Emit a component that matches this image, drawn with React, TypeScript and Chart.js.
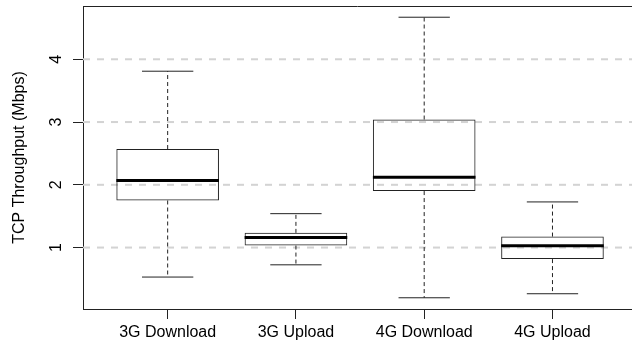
import React, { useEffect, useRef } from 'react';
import { Chart, registerables } from 'chart.js';

Chart.register(...registerables);

const categories = ['3G Download', '3G Upload', '4G Download', '4G Upload'];
const whiskerLow = [0.53, 0.725, 0.2, 0.264];
const q1 = [1.75, 1.032, 1.9, 0.816];
const median = [2.07, 1.159, 2.12, 1.027];
const q3 = [2.57, 1.234, 3.04, 1.175];
const whiskerHigh = [3.81, 1.54, 4.67, 1.727];
const yTicks = [1, 2, 3, 4];
const yTitle = 'TCP Throughput (Mbps)';

const FONT = '"Liberation Sans", Arial, Helvetica, sans-serif';

export default function App() {
  const ref = useRef<HTMLCanvasElement>(null);

  useEffect(() => {
    if (!ref.current) return;

    const boxPlugin = {
      id: 'boxExtras',
      beforeDatasetsDraw(chart: any) {
        const { ctx, chartArea, scales } = chart;
        const y = scales.y;
        ctx.save();
        ctx.strokeStyle = '#d3d3d3';
        ctx.lineWidth = 2;
        ctx.setLineDash([7, 7]);
        yTicks.forEach((v) => {
          const py = y.getPixelForValue(v);
          ctx.beginPath();
          ctx.moveTo(chartArea.left, py);
          ctx.lineTo(chartArea.right, py);
          ctx.stroke();
        });
        ctx.restore();
      },
      afterDatasetsDraw(chart: any) {
        const { ctx, chartArea, scales } = chart;
        const x = scales.x;
        const y = scales.y;
        const meta = chart.getDatasetMeta(0);
        ctx.save();
        categories.forEach((_, i) => {
          const bar = meta.data[i];
          const px = x.getPixelForValue(i + 1);
          const half = bar.width / 2;
          const staple = bar.width / 4;
          ctx.strokeStyle = '#222';
          ctx.lineWidth = 1;
          ctx.setLineDash([4, 3]);
          ctx.beginPath();
          ctx.moveTo(px, y.getPixelForValue(q3[i]));
          ctx.lineTo(px, y.getPixelForValue(whiskerHigh[i]));
          ctx.moveTo(px, y.getPixelForValue(q1[i]));
          ctx.lineTo(px, y.getPixelForValue(whiskerLow[i]));
          ctx.stroke();
          ctx.setLineDash([]);
          ctx.beginPath();
          const hy = y.getPixelForValue(whiskerHigh[i]);
          const ly = y.getPixelForValue(whiskerLow[i]);
          ctx.moveTo(px - staple, hy);
          ctx.lineTo(px + staple, hy);
          ctx.moveTo(px - staple, ly);
          ctx.lineTo(px + staple, ly);
          ctx.stroke();
          ctx.strokeStyle = '#000';
          ctx.lineWidth = 3;
          ctx.beginPath();
          const my = y.getPixelForValue(median[i]);
          ctx.moveTo(px - half, my);
          ctx.lineTo(px + half, my);
          ctx.stroke();
        });
        // top border of the plot box
        ctx.strokeStyle = '#222';
        ctx.lineWidth = 1;
        ctx.beginPath();
        const ty = Math.round(chartArea.top) + 0.5;
        ctx.moveTo(chartArea.left, ty);
        ctx.lineTo(chartArea.right, ty);
        ctx.stroke();
        ctx.restore();
      },
      afterDraw(chart: any) {
        // rotated y tick labels (R style, las = 0)
        const { ctx, chartArea, scales } = chart;
        const y = scales.y;
        ctx.save();
        ctx.font = `16px ${FONT}`;
        ctx.fillStyle = '#000';
        ctx.textAlign = 'center';
        ctx.textBaseline = 'middle';
        const lx = chartArea.left - 26.7;
        yTicks.forEach((v) => {
          const py = y.getPixelForValue(v);
          ctx.save();
          ctx.translate(lx, py);
          ctx.rotate(-Math.PI / 2);
          ctx.fillText(String(v), 0, 0);
          ctx.restore();
        });
        ctx.restore();
      },
    };

    const font = { family: FONT, size: 16 };

    const chart = new Chart(ref.current, {
      type: 'bar',
      data: {
        datasets: [
          {
            data: categories.map((_, i) => ({ x: i + 1, y: [q1[i], q3[i]] })) as any,
            backgroundColor: 'rgba(0,0,0,0)',
            borderColor: '#222',
            borderWidth: 1,
            borderSkipped: false,
            barPercentage: 0.8,
            categoryPercentage: 1,
          },
        ],
      },
      options: {
        animation: false,
        responsive: false,
        devicePixelRatio: 1,
        layout: { padding: { top: 6, right: 0, bottom: 0, left: 0 } },
        plugins: { legend: { display: false }, tooltip: { enabled: false } },
        scales: {
          x: {
            type: 'linear',
            min: 0.34,
            max: 4.62,
            offset: false,
            afterBuildTicks: (s: any) => {
              s.ticks = categories.map((_, i) => ({ value: i + 1 }));
            },
            afterFit: (s: any) => {
              s.height = 36;
              s.paddingLeft = 0;
              s.paddingRight = 0;
            },
            ticks: {
              autoSkip: false,
              maxRotation: 0,
              minRotation: 0,
              padding: 4,
              color: '#000',
              font,
              callback: (v: any) => categories[Number(v) - 1] ?? '',
            },
            grid: {
              offset: false,
              drawOnChartArea: false,
              drawTicks: true,
              tickLength: 10,
              tickColor: '#222',
              tickWidth: 1,
            },
            border: { display: true, color: '#222', width: 1 },
          },
          y: {
            type: 'linear',
            min: 0.021,
            max: 4.849,
            afterBuildTicks: (s: any) => {
              s.ticks = yTicks.map((v) => ({ value: v }));
            },
            afterFit: (s: any) => {
              s.width = 83;
              s.paddingTop = 0;
              s.paddingBottom = 0;
            },
            ticks: {
              color: '#000',
              font,
              callback: () => '',
            },
            grid: {
              drawOnChartArea: false,
              drawTicks: true,
              tickLength: 10,
              tickColor: '#222',
              tickWidth: 1,
            },
            border: { display: true, color: '#222', width: 1 },
            title: {
              display: true,
              text: yTitle,
              color: '#000',
              font,
              padding: { top: 10, bottom: 0 },
            },
          },
        },
      } as any,
      plugins: [boxPlugin],
    });

    return () => chart.destroy();
  }, []);

  return (
    <div style={{ position: 'fixed', left: 0, top: 0, width: 632, height: 345, background: '#fff' }}>
      <canvas ref={ref} width={632} height={345} />
    </div>
  );
}
